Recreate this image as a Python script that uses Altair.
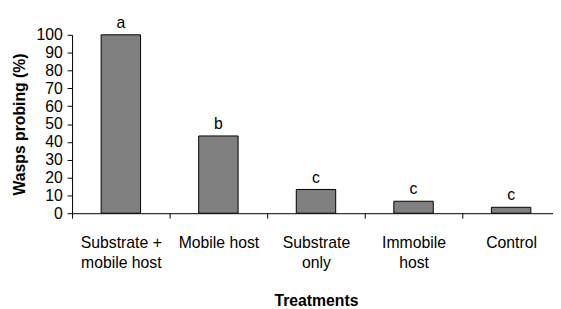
import altair as alt
import pandas as pd

treatments = ["Substrate +|mobile host", "Mobile host", "Substrate|only", "Immobile|host", "Control"]
probing = [100, 43.3, 13.3, 6.7, 3.3]
letters = ["a", "b", "c", "c", "c"]

df = pd.DataFrame({"treatment": treatments, "probing": probing, "letter": letters})

FONT = "Liberation Sans"

x = alt.X(
    "treatment:N",
    sort=treatments,
    scale=alt.Scale(range=[0, 495], paddingInner=0, paddingOuter=0),
    axis=alt.Axis(
        title="Treatments",
        titleFont=FONT, titleFontSize=16, titleFontWeight="bold", titleColor="black",
        titlePadding=23,
        labelFont=FONT, labelFontSize=16, labelColor="black", labelAngle=0,
        labelExpr="split(datum.label, '|')", labelLineHeight=20, labelPadding=17,
        tickBand="extent", tickSize=5, tickColor="black", domainColor="black",
        labelFlush=False, labelOverlap=False,
    ),
)
y = alt.Y(
    "probing:Q",
    scale=alt.Scale(domain=[0, 100], nice=False),
    axis=alt.Axis(
        title="Wasps probing (%)",
        titleFont=FONT, titleFontSize=16, titleFontWeight="bold", titleColor="black",
        titlePadding=9,
        values=list(range(0, 101, 10)),
        labelFont=FONT, labelFontSize=16, labelColor="black", labelPadding=5,
        labelOverlap=False, labelFlush=False,
        tickSize=5, tickColor="black", domainColor="black", grid=False,
    ),
)

base = alt.Chart(df).encode(x=x, y=y)
bars = base.mark_bar(size=40, color="#808080", stroke="black", strokeWidth=1)
text = base.mark_text(font=FONT, fontSize=16, baseline="alphabetic", dy=-7, color="black").encode(
    text="letter:N"
)

chart = alt.layer(bars, text).properties(
    width=488, height=181,
    autosize=alt.AutoSizeParams(type="none"),
    padding={"left": 65, "top": 25, "right": 0, "bottom": 95},
).configure_view(stroke=None)

chart.save("out.html", embed_options={"renderer": "svg", "actions": False})
